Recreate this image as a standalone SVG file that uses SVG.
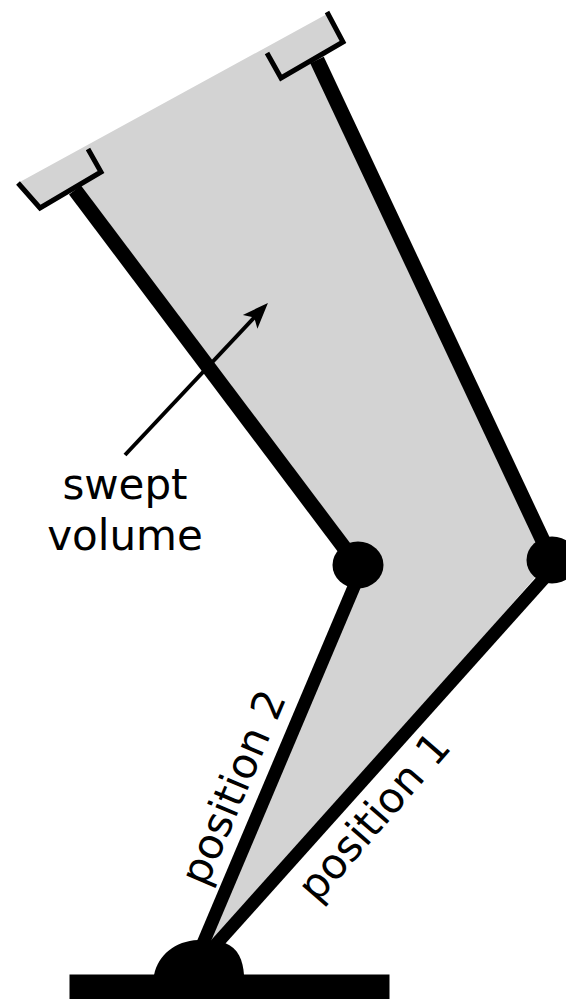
<svg xmlns="http://www.w3.org/2000/svg" width="566" height="999" viewBox="0 0 566 999">
<style>
.link{fill:none;stroke:#000;stroke-width:15}
.lower{fill:none;stroke:#000;stroke-width:13}
.gripper{fill:none;stroke:#000;stroke-width:5;stroke-linejoin:miter}
.lbl{font-family:"DejaVu Sans",sans-serif;font-size:42px;fill:#000}
</style>
<defs><marker id="ah" markerUnits="userSpaceOnUse" markerWidth="30" markerHeight="26" refX="10" refY="13" orient="auto"><path d="M2,3 L28,13 L2,23 L8,13 Z" fill="#000"/></marker></defs>
<rect width="566" height="999" fill="#fff"/>
<g id="swept-volume"><path d="M18,183 L327,14 L343,42 L317,62 L552,558 L202,960 L353,590 L358,566 L75,190 L39,210 Z" fill="#d3d3d3"/></g>
<g id="connectors">
<path class="lower" d="M196,960 L359,575"/>
<path class="lower" d="M202,960 L551.500,570"/>
<path class="link" d="M358,566 L75,190"/>
<path class="link" d="M552,560 L317,60"/>
<path d="M125,455 L255.600,316" fill="none" stroke="#000" stroke-width="4" marker-end="url(#ah)"/>
</g>
<g id="gripper-2"><path class="gripper" d="M18,183 L40,208 L101,172 L88,149"/></g>
<g id="gripper-1"><path class="gripper" d="M267,53 L281,78 L343,42 L327,12"/></g>
<g id="joint-2"><ellipse cx="358" cy="565" rx="25.500" ry="23.500"/></g>
<g id="joint-1"><ellipse cx="552" cy="560" rx="25.500" ry="23.500"/></g>
<g id="base"><path d="M154,975 C158,955 175,941 198,940 L225,943 C238,948 243,960 244,975 Z"/><rect x="69.500" y="974.500" width="320" height="25"/></g>
<g id="labels">
<text class="lbl" x="125" y="499" text-anchor="middle">swept</text>
<text class="lbl" x="125" y="550" text-anchor="middle">volume</text>
<text class="lbl" transform="translate(206,888) rotate(-67)">position 2</text>
<text class="lbl" transform="translate(317,904) rotate(-49)">position 1</text>
</g>
</svg>
